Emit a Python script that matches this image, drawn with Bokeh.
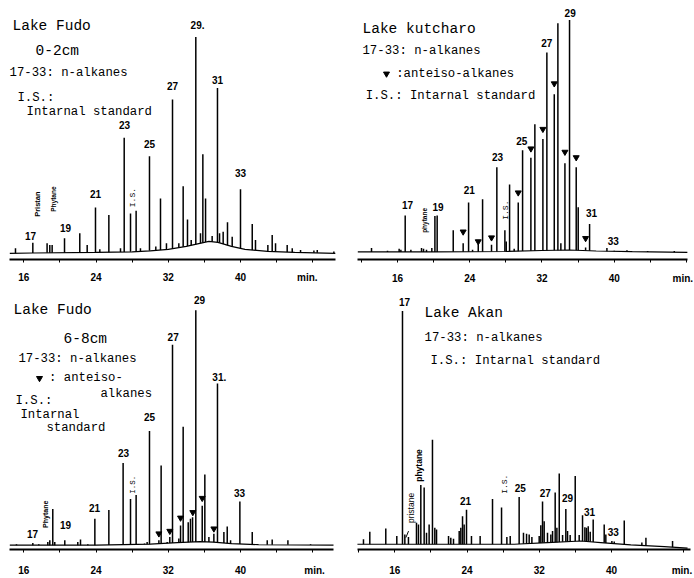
import numpy as np
from bokeh.plotting import figure
from bokeh.models import LinearAxis, FixedTicker, Range1d
from bokeh.layouts import column, row
from bokeh.embed import file_html
from bokeh.resources import INLINE
from bokeh.core.properties import value

# ---------------- data (retention time in min, detector response) ----------------
# Lake Fudo 0-2cm
fudo02_t = [15.08, 17.00, 18.58, 18.88, 19.14, 20.51, 22.20, 23.02, 23.94, 24.42,
            25.42, 26.71, 27.12, 27.82, 28.44, 28.92, 29.92, 30.62, 31.14, 31.80,
            32.47, 33.17, 33.65, 34.13, 34.54, 35.05, 35.57, 35.83, 36.13, 36.86,
            37.45, 37.68, 38.08, 38.56, 39.08, 40.00, 41.30, 41.66, 43.03, 43.51,
            43.88, 45.17, 45.73, 46.65, 48.13, 48.50, 50.34]
fudo02_h = [5, 10.7, 10, 8.3, 8.3, 15, 20, 8.3, 46, 4,
            38.3, 5, 115.7, 40, 42.7, 5, 97.3, 6.7, 55, 10,
            154, 10, 67.3, 34, 13.3, 216.7, 20, 99.3, 55, 17.3,
            165.7, 20, 21.7, 31, 16.7, 64.3, 29.3, 13.3, 8.3, 18.3,
            10, 8.3, 5, 3.3, 2.7, 3.3, 1.7]
fudo02_base_t = [14.45, 17, 24, 28, 30, 32, 34, 35.5, 36.5, 37.5, 39, 40.5, 43, 46, 50.5]
fudo02_base_h = [0, 0.3, 1, 1.5, 2.5, 4, 7, 10, 12, 11, 7, 4, 2, 1, 0]

# Lake Kutcharo
kut_t = [13.12, 14.89, 16.18, 16.37, 16.85, 17.48, 18.66, 18.88, 19.21, 19.80,
         20.14, 20.39, 22.17, 23.27, 23.87, 24.31, 24.94, 25.42, 26.41, 27.00,
         27.89, 28.04, 28.41, 28.92, 29.37, 29.85, 30.77, 31.21, 32.10, 32.54,
         33.36, 33.76, 34.09, 34.54, 35.05, 35.79, 36.01, 36.83, 37.27, 39.19,
         40.00, 41.41, 43.70, 46.65]
kut_h = [4, 1.3, 3.3, 2.3, 37.3, 2.3, 4, 3.3, 2.3, 4,
         36.7, 37.3, 22.3, 9, 50.7, 2.3, 8, 54, 7.3, 86.7,
         22.3, 10.7, 69, 3.3, 50.7, 104, 96.3, 130.7, 115.7, 204,
         161.3, 234, 9, 90.7, 237.3, 86.7, 45.7, 4.7, 28.7, 4,
         1.3, 1.7, 1, 1]
kut_base_t = [11.6, 20, 28, 32, 35, 38, 42, 48.1]
kut_base_h = [0, 0, 0.5, 1.5, 2, 1, 0.3, -0.5]
kut_anteiso_t = [23.27, 24.94, 26.41, 29.37, 30.77, 32.10, 33.36, 34.54, 35.79, 36.83]
kut_anteiso_y = [20.7, 10.7, 14.7, 60.7, 105.7, 125.7, 172.3, 102.3, 96.7, 14]

# Lake Fudo 6-8cm
fudo68_t = [15.19, 17.00, 17.66, 18.66, 18.88, 19.21, 19.43, 20.54, 21.98, 22.28,
            23.09, 23.87, 25.42, 27.00, 27.82, 28.44, 29.37, 29.66, 29.92, 30.96,
            31.21, 31.88, 32.17, 32.47, 33.17, 33.36, 33.65, 34.21, 34.46, 34.69,
            35.05, 35.76, 36.05, 36.50, 37.05, 37.45, 38.16, 38.53, 38.90, 39.93,
            41.30, 42.96, 43.51, 45.25, 47.76]
fudo68_h = [1, 2.3, 1, 3.3, 5, 36.7, 3.3, 5, 3.3, 5.7,
            1, 26.7, 35.7, 83.3, 46.7, 51, 1.7, 3.3, 115.7, 5,
            80.7, 3.3, 8.3, 203.3, 6.7, 20, 120, 23.3, 26.7, 28.3,
            238.3, 40, 71.7, 8.3, 11.7, 164, 13.3, 19, 5, 44.3,
            13.3, 5, 5.7, 5, 1]
fudo68_base_t = [14.45, 24, 30, 33, 35.5, 37, 39, 42, 50.3]
fudo68_base_h = [0, 0, 1, 2.5, 3.5, 3, 1.5, 0.5, 0]
fudo68_anteiso_t = [30.96, 32.17, 33.36, 34.72, 35.76, 37.05]
fudo68_anteiso_y = [11.7, 14.3, 27.7, 33.3, 47.7, 16.7]

# Lake Akan
akan_t = [12.53, 13.23, 15.00, 16.22, 16.85, 17.11, 17.51, 18.40, 18.62, 18.88,
          19.25, 19.51, 19.80, 20.17, 20.43, 20.62, 21.95, 22.20, 22.50, 23.13,
          23.31, 23.50, 23.68, 23.94, 24.49, 25.45, 26.82, 27.82, 28.41, 28.78,
          29.77, 30.25, 30.59, 30.88, 31.18, 31.99, 32.17, 32.36, 32.54, 32.91,
          33.28, 33.47, 33.76, 33.95, 34.21, 34.58, 34.94, 35.13, 35.42, 35.98,
          36.42, 36.79, 37.05, 37.23, 37.42, 37.64, 37.97, 39.19, 39.37, 40.04,
          40.30, 41.41, 43.36, 43.81, 46.76]
akan_h = [5, 12.7, 16, 8.3, 236, 10, 7.3, 21.7, 20, 60,
          57.3, 11.7, 20, 105.7, 16.7, 15, 8.3, 6.7, 5.7, 13.3,
          16.7, 28.3, 20, 35, 8.3, 8.3, 45.7, 37.3, 7.3, 8.3,
          47.7, 11.7, 10.7, 10, 7.3, 8.3, 19.3, 43.3, 23.3, 11.7,
          10, 13.3, 52.3, 16.7, 71.7, 9.3, 35.7, 13.3, 9.3, 69,
          9.3, 29.3, 17.3, 16.7, 18.3, 12.7, 25, 20, 10, 3.3,
          2.7, 24, 1.7, 6.7, 3.3]
akan_base_t = [11.86, 29.22, 32.91, 36.61, 38.82, 42.14, 45.84, 48.42]
akan_base_h = [0, 0, 1.7, 3.3, 1.7, -0.7, -2.3, -4]

tick_minutes = [16, 24, 32, 40]
tick_marks = [12, 16, 20, 24, 28, 32, 36, 40, 44, 48]

MONO = "Liberation Mono"
SANS = "Liberation Sans"


def make_panel(width, height, xr, yr, bounds, border_bottom, standoff,
               t, h, bt, bh, min_at):
    p = figure(width=width, height=height, x_range=Range1d(*xr), y_range=Range1d(*yr),
               x_axis_type=None, y_axis_type=None, output_backend="svg",
               toolbar_location=None, min_border_left=0, min_border_right=0,
               min_border_top=0, min_border_bottom=border_bottom)
    p.outline_line_color = None
    p.background_fill_color = "white"
    p.border_fill_color = "white"
    ax = LinearAxis(ticker=FixedTicker(ticks=tick_minutes + [min_at], minor_ticks=tick_marks),
                    bounds=bounds)
    ax.major_label_overrides = {min_at: "min."}
    ax.axis_line_width = 2
    ax.axis_line_color = "black"
    ax.major_tick_in = 0
    ax.major_tick_out = 0
    ax.minor_tick_in = 0
    ax.minor_tick_out = 3
    ax.minor_tick_line_width = 1
    ax.major_label_text_font = SANS
    ax.major_label_text_font_style = "bold"
    ax.major_label_text_font_size = "10px"
    ax.major_label_text_color = "black"
    ax.major_label_standoff = standoff
    p.add_layout(ax, "below")

    base_at_peak = np.interp(t, bt, bh)
    p.line(bt, bh, line_color="black", line_width=1.2)
    p.segment(x0=t, y0=base_at_peak, x1=t, y1=h, line_color="black", line_width=1.5)
    return p


def add_texts(p, items):
    for txt, x, y, size, font, style, align, angle in items:
        p.text(x=[x], y=[y], text=[txt], text_font=value(font), text_font_size=f"{size}px",
               text_font_style=style, text_align=align, text_baseline="middle",
               angle=angle, text_color="black")


R = np.pi / 2
W = 347
TS = 14.5   # title size
BS = 12.3   # body text size
PS = 10     # peak label size

# ---------- Panel 1: Lake Fudo 0-2cm ----------
p1 = make_panel(W, 290, (13.42, 51.85), (-6.2, 253.3), (14.45, 50.5), 31, 9,
                fudo02_t, fudo02_h, fudo02_base_t, fudo02_base_h, 47.4)
add_texts(p1, [
    ("Lake Fudo", 14.75, 227.3, TS, MONO, "normal", "left", 0),
    ("0-2cm", 17.30, 202.3, TS, MONO, "normal", "left", 0),
    ("17-33: n-alkanes", 14.42, 180.3, BS, MONO, "normal", "left", 0),
    ("I.S.:", 15.30, 155.3, BS, MONO, "normal", "left", 0),
    ("Intarnal standard", 16.30, 141.3, BS, MONO, "normal", "left", 0),
    ("29.", 35.24, 228.3, PS, SANS, "bold", "center", 0),
    ("27", 32.47, 167.3, PS, SANS, "bold", "center", 0),
    ("31", 37.45, 173.3, PS, SANS, "bold", "center", 0),
    ("23", 27.16, 128.3, PS, SANS, "bold", "center", 0),
    ("25", 29.92, 109.3, PS, SANS, "bold", "center", 0),
    ("33", 40.00, 80.3, PS, SANS, "bold", "center", 0),
    ("21", 23.94, 59.3, PS, SANS, "bold", "center", 0),
    ("19", 20.62, 25.3, PS, SANS, "bold", "center", 0),
    ("17", 16.74, 17.3, PS, SANS, "bold", "center", 0),
    ("Pristan", 17.52, 49.3, 7.5, SANS, "bold", "center", R),
    ("Phytane", 19.29, 54.3, 6.5, SANS, "bold", "center", R),
    ("I.S.", 28.05, 55.8, 8, MONO, "normal", "center", R),
])

# ---------- Panel 2: Lake Kutcharo ----------
p2 = make_panel(W, 290, (10.46, 48.89), (-7.7, 257.3), (11.57, 48.13), 25, 10,
                kut_t, kut_h, kut_base_t, kut_base_h, 47.6)
p2.scatter(x=kut_anteiso_t, y=kut_anteiso_y, marker="inverted_triangle", size=6,
           color="black")
p2.scatter(x=[14.78], y=[182.3], marker="inverted_triangle", size=6, color="black")
add_texts(p2, [
    ("Lake kutcharo", 12.12, 228.3, TS, MONO, "normal", "left", 0),
    ("17-33: n-alkanes", 12.12, 205.3, BS, MONO, "normal", "left", 0),
    (":anteiso-alkanes", 15.85, 182.3, BS, MONO, "normal", "left", 0),
    ("I.S.: Intarnal standard", 12.47, 159.3, BS, MONO, "normal", "left", 0),
    ("29", 35.12, 244.0, PS, SANS, "bold", "center", 0),
    ("27", 32.53, 214.3, PS, SANS, "bold", "center", 0),
    ("25", 29.77, 113.3, PS, SANS, "bold", "center", 0),
    ("23", 27.07, 97.3, PS, SANS, "bold", "center", 0),
    ("21", 23.94, 63.3, PS, SANS, "bold", "center", 0),
    ("19", 20.49, 46.3, PS, SANS, "bold", "center", 0),
    ("17", 17.11, 48.0, PS, SANS, "bold", "center", 0),
    ("31", 37.48, 40.3, PS, SANS, "bold", "center", 0),
    ("33", 39.89, 11.3, PS, SANS, "bold", "center", 0),
    ("phytane", 18.95, 32.3, 6.5, SANS, "bold", "center", R),
    ("I.S.", 28.00, 42.8, 8, MONO, "normal", "center", R),
])

# ---------- Panel 3: Lake Fudo 6-8cm ----------
p3 = make_panel(W, 288, (13.42, 51.85), (-4.4, 258.3), (14.45, 50.3), 25, 12,
                fudo68_t, fudo68_h, fudo68_base_t, fudo68_base_h, 48.2)
p3.scatter(x=fudo68_anteiso_t, y=fudo68_anteiso_y, marker="inverted_triangle", size=6,
           color="black")
p3.scatter(x=[17.74], y=[169.3], marker="inverted_triangle", size=6, color="black")
add_texts(p3, [
    ("Lake Fudo", 14.86, 238.3, TS, MONO, "normal", "left", 0),
    ("6-8cm", 20.40, 209.3, TS, MONO, "normal", "left", 0),
    ("17-33: n-alkanes", 15.41, 189.3, BS, MONO, "normal", "left", 0),
    (": anteiso-", 18.80, 169.3, BS, MONO, "normal", "left", 0),
    ("alkanes", 24.49, 153.3, BS, MONO, "normal", "left", 0),
    ("I.S.:", 15.08, 146.3, BS, MONO, "normal", "left", 0),
    ("Intarnal", 15.63, 132.3, BS, MONO, "normal", "left", 0),
    ("standard", 18.51, 119.3, BS, MONO, "normal", "left", 0),
    ("29", 35.46, 248.3, PS, SANS, "bold", "center", 0),
    ("27", 32.54, 211.3, PS, SANS, "bold", "center", 0),
    ("31.", 37.65, 170.3, PS, SANS, "bold", "center", 0),
    ("25", 29.92, 130.3, PS, SANS, "bold", "center", 0),
    ("23", 27.04, 93.3, PS, SANS, "bold", "center", 0),
    ("33", 39.89, 53.3, PS, SANS, "bold", "center", 0),
    ("21", 23.83, 37.3, PS, SANS, "bold", "center", 0),
    ("19", 20.62, 20.3, PS, SANS, "bold", "center", 0),
    ("17", 16.96, 11.3, PS, SANS, "bold", "center", 0),
    ("Phytane", 18.40, 31.3, 7, SANS, "bold", "center", R),
    ("I.S.", 28.04, 61.3, 7.5, MONO, "normal", "center", R),
])

# ---------- Panel 4: Lake Akan ----------
p4 = make_panel(W, 288, (10.76, 49.19), (-5.3, 256.7), (11.86, 48.8), 26, 12,
                akan_t, akan_h, akan_base_t, akan_base_h, 47.8)
p4.segment(x0=[17.22], y0=[6.7], x1=[17.52], y1=[13.3], line_color="black", line_width=1)
add_texts(p4, [
    ("Lake Akan", 19.29, 234.2, TS, MONO, "normal", "left", 0),
    ("17-33: n-alkanes", 19.29, 209.0, BS, MONO, "normal", "left", 0),
    ("I.S.: Intarnal standard", 19.95, 185.7, BS, MONO, "normal", "left", 0),
    ("17", 17.07, 245.0, PS, SANS, "bold", "center", 0),
    ("pristane", 17.77, 36.7, 8.5, SANS, "normal", "center", R),
    ("phytane", 18.70, 79.7, 8.5, SANS, "bold", "center", R),
    ("21", 23.83, 43.7, PS, SANS, "bold", "center", 0),
    ("I.S.", 28.11, 60.7, 8, MONO, "normal", "center", R),
    ("25", 29.89, 56.7, PS, SANS, "bold", "center", 0),
    ("27", 32.66, 51.7, PS, SANS, "bold", "center", 0),
    ("29", 35.13, 46.7, PS, SANS, "bold", "center", 0),
    ("31", 37.56, 32.7, PS, SANS, "bold", "center", 0),
    ("33", 40.19, 12.7, PS, SANS, "bold", "center", 0),
])

layout = column(row(p1, p2), row(p3, p4))
open("out.html", "w").write(file_html(layout, INLINE))
